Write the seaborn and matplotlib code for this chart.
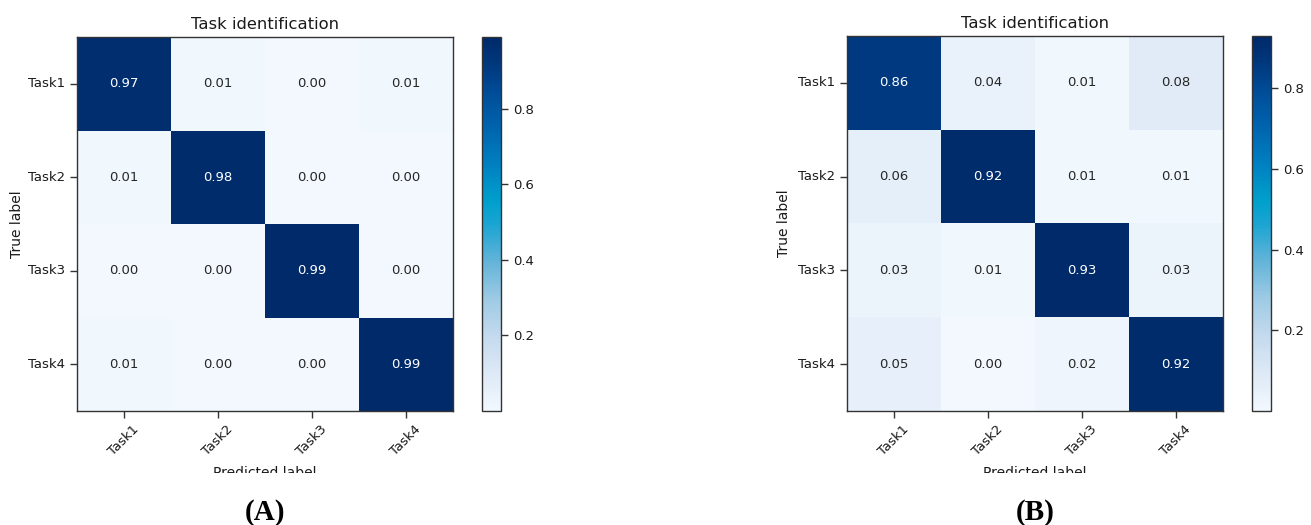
import numpy as np
import pandas as pd
import seaborn as sns
import matplotlib
matplotlib.use("Agg")
import matplotlib.pyplot as plt
from matplotlib.colors import LinearSegmentedColormap
from matplotlib.transforms import Bbox, TransformedBbox

# ---- data ----
tasks = ["Task1", "Task2", "Task3", "Task4"]
panel_a = [[0.97, 0.01, 0.00, 0.01],
           [0.01, 0.98, 0.00, 0.00],
           [0.00, 0.00, 0.99, 0.00],
           [0.01, 0.00, 0.00, 0.99]]
panel_b = [[0.86, 0.04, 0.01, 0.08],
           [0.06, 0.92, 0.01, 0.01],
           [0.03, 0.01, 0.93, 0.03],
           [0.05, 0.00, 0.02, 0.92]]
panel_tags = ["(A)", "(B)"]
title = "Task identification"
cbar_ticks = [0.2, 0.4, 0.6, 0.8]

# ---- colormap (saturated Blues as in the reference) ----
cmap = LinearSegmentedColormap.from_list(
    "ref_blues",
    [(0.00, "#f2f8fe"), (0.10, "#dde9f6"), (0.20, "#c4daee"),
     (0.30, "#9dcae4"), (0.40, "#62b4d9"), (0.50, "#1aa4d2"),
     (0.56, "#00a0cc"), (0.65, "#0083c2"), (0.75, "#0066b0"),
     (0.85, "#004d99"), (0.93, "#00387d"), (1.00, "#002a6a")])

W, H = 1311, 525
fig = plt.figure(figsize=(W / 100, H / 100), dpi=100)
fig.patch.set_facecolor("white")


def px_axes(x0, y0, x1, y1):
    return fig.add_axes([x0 / W, (H - y1) / H, (x1 - x0) / W, (y1 - y0) / H])


layouts = [
    dict(hm=(77, 37, 453, 411), cb=(482, 37, 501, 411), ylab=-0.141),
    dict(hm=(847, 36, 1223, 411), cb=(1252, 36, 1271, 411), ylab=-0.149),
]
edge = "#333333"
txt = "#1a1a1a"

for data, tag, lay in zip([panel_a, panel_b], panel_tags, layouts):
    df = pd.DataFrame(data, index=tasks, columns=tasks)
    ax = px_axes(*lay["hm"])
    cax = px_axes(*lay["cb"])
    arr = np.array(data)
    sns.heatmap(df, ax=ax, cbar_ax=cax, cmap=cmap, vmin=arr.min(), vmax=arr.max(),
                annot=True, fmt=".2f", annot_kws={"fontsize": 9.5},
                linewidths=0, cbar=True)
    for sp in ax.spines.values():
        sp.set_visible(True)
        sp.set_color(edge)
        sp.set_linewidth(1.0)
    ax.tick_params(axis="both", length=5, width=1, color=edge, labelsize=9.5,
                   labelcolor=txt, pad=3.5)
    ax.set_yticklabels(tasks, rotation=0)
    ax.set_xticklabels(tasks, rotation=45, ha="center")
    ax.set_title(title, fontsize=11.8, color=txt, pad=6)
    ax.set_ylabel("True label", fontsize=10, color=txt)
    ax.yaxis.set_label_coords(lay["ylab"], 0.5)
    ax.set_xlabel("Predicted label", fontsize=10, color=txt, va="top")
    ax.xaxis.set_label_coords(0.5, -0.147)
    lbl = ax.xaxis.label
    lbl.set_clip_on(True)
    lbl.set_clip_box(TransformedBbox(Bbox([[0, (H - 473) / H], [1, 1]]), fig.transFigure))

    cb = ax.collections[0].colorbar
    cb.set_ticks(cbar_ticks)
    cb.outline.set_visible(True)
    cb.outline.set_linewidth(1.0)
    cb.outline.set_edgecolor(edge)
    cax.tick_params(length=5, width=1, color=edge, labelsize=9.5, labelcolor=txt)

    x0, y0, x1, y1 = lay["hm"]
    fig.text(((x0 + x1) / 2) / W, (H - 512) / H, tag, ha="center", va="center",
             fontsize=21, fontweight="bold", family="Liberation Serif", color="black")

fig.savefig("out.png", dpi=100, facecolor="white")
